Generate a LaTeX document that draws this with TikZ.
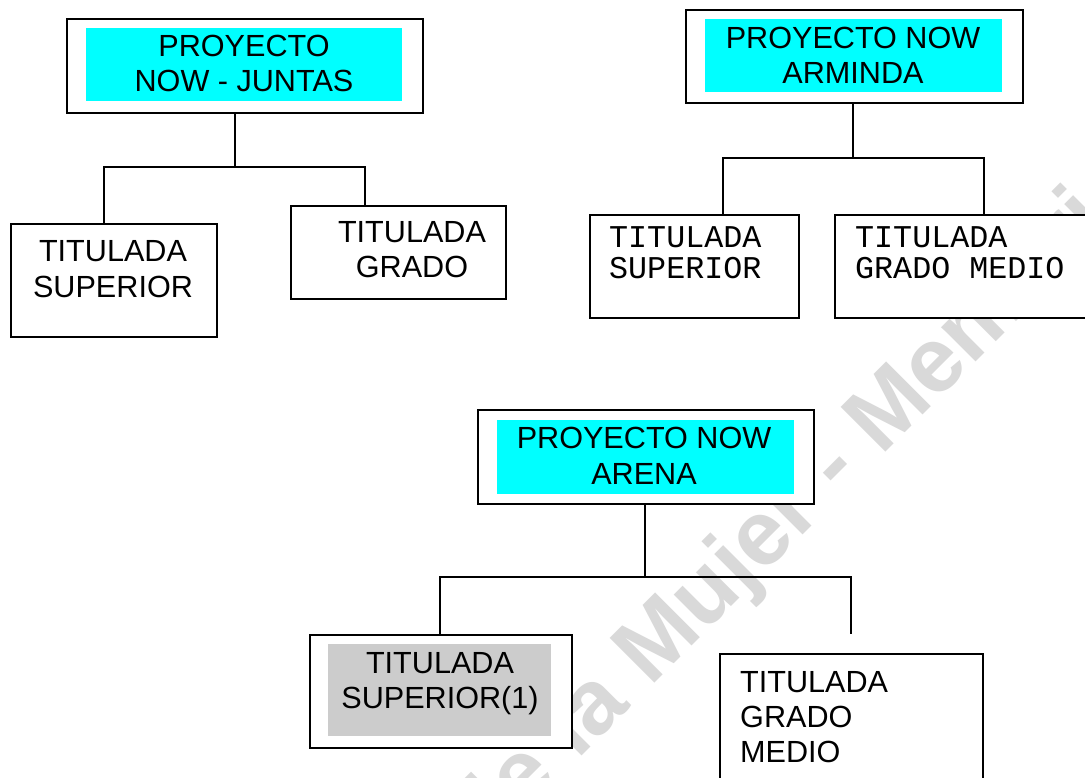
\documentclass[tikz,border=0pt]{standalone}
\usepackage{fontspec}
\setmainfont{Liberation Sans}
\newfontfamily\monofnt{Liberation Mono}
\definecolor{cyanfill}{RGB}{0,255,255}
\definecolor{greyfill}{RGB}{204,204,204}
\definecolor{wmgrey}{RGB}{217,217,217}
\tikzset{
  box/.style={draw=black, line width=1.8pt, fill=white, inner sep=0pt, anchor=north west},
  cyanbox/.style={fill=cyanfill, draw=none, inner sep=0pt, anchor=north west},
  greybox/.style={fill=greyfill, draw=none, inner sep=0pt, anchor=north west},
  link/.style={draw=black, line width=1.8pt},
  txt/.style={inner sep=0pt, anchor=base, font=\fontsize{30.6}{35}\selectfont},
  txtl/.style={inner sep=0pt, anchor=base west, font=\fontsize{30.6}{35}\selectfont},
  mono/.style={inner sep=0pt, anchor=base west, font=\monofnt\fontsize{31.7}{31}\selectfont},
  wm/.style={inner sep=0pt, rotate=45, text=wmgrey, font=\bfseries\fontsize{92}{100}\selectfont}
}
\begin{document}
\begin{tikzpicture}[x=1pt,y=-1pt]
\useasboundingbox (0,0) rectangle (1085,778);
\clip (0,0) rectangle (1085,778);
\fill[white] (0,0) rectangle (1085,778);

% watermark
\node[wm, anchor=base west] (wmb) at (650,688) {Mujer - Memoria};
\node[wm, anchor=base east] (wma) at (wmb.base west) {de la\kern0.278em};

% ---------- PROYECTO NOW - JUNTAS ----------
\coordinate (jbl) at (104,167);
\coordinate (jbr) at (365,167);
\coordinate (jbm) at (235,167);
\node[box, minimum width=356pt, minimum height=94pt] (jt) at (66,18) {};
\node[cyanbox, minimum width=316pt, minimum height=73pt] (jtc) at (86,28) {};
\node[txt] (jt1) at (244,57) {PROYECTO};
\node[txt] (jt2) at (244,92) {NOW - JUNTAS};
\node[box, minimum width=206pt, minimum height=113pt] (jl) at (10,223) {};
\node[txt] (jl1) at (113,261.7) {TITULADA};
\node[txt] (jl2) at (113,298) {SUPERIOR};
\node[box, minimum width=215pt, minimum height=93pt] (jr) at (290,205) {};
\node[txt] (jr1) at (412,243) {TITULADA};
\node[txt] (jr2) at (412,278) {GRADO};
\draw[link] (jbm |- jt.south) -- (jbm);
\draw[link] (jbl |- jl.north) -- (jbl) -- (jbr) -- (jbr |- jr.north);

% ---------- PROYECTO NOW ARMINDA ----------
\coordinate (mbl) at (723,158);
\coordinate (mbr) at (984,158);
\coordinate (mbm) at (853,158);
\node[box, minimum width=337pt, minimum height=93pt] (mt) at (685,9) {};
\node[cyanbox, minimum width=297pt, minimum height=73pt] (mtc) at (705,19) {};
\node[txt] (mt1) at (853,48.3) {PROYECTO NOW};
\node[txt] (mt2) at (853,83.3) {ARMINDA};
\node[box, minimum width=209pt, minimum height=103pt] (ml) at (589,214) {};
\node[mono] (ml1) at (609,248) {TITULADA};
\node[mono] (ml2) at (609,279) {SUPERIOR};
\node[box, minimum width=270pt, minimum height=103pt] (mr) at (834,214) {};
\node[mono] (mr1) at (855,248) {TITULADA};
\node[mono] (mr2) at (855,279) {GRADO MEDIO};
\draw[link] (mbm |- mt.south) -- (mbm);
\draw[link] (mbl |- ml.north) -- (mbl) -- (mbr) -- (mbr |- mr.north);

% ---------- PROYECTO NOW ARENA ----------
\coordinate (abl) at (440,577);
\coordinate (abr) at (851,577);
\coordinate (abm) at (645,577);
\coordinate (abre) at (851,634);
\node[box, minimum width=336pt, minimum height=94pt] (at) at (477,409) {};
\node[cyanbox, minimum width=297pt, minimum height=74pt] (atc) at (497,420) {};
\node[txt] (at1) at (644,448.3) {PROYECTO NOW};
\node[txt] (at2) at (644,484.5) {ARENA};
\node[box, minimum width=262pt, minimum height=113pt] (al) at (309,634) {};
\node[greybox, minimum width=223pt, minimum height=92pt] (alg) at (328,644) {};
\node[txt] (al1) at (440,673) {TITULADA};
\node[txt] (al2) at (440,708) {SUPERIOR(1)};
\node[box, minimum width=263pt, minimum height=140pt] (ar) at (719,653) {};
\node[txtl] (ar1) at (740,692) {TITULADA};
\node[txtl] (ar2) at (740,727) {GRADO};
\node[txtl] (ar3) at (740,762) {MEDIO};
\draw[link] (abm |- at.south) -- (abm);
\draw[link] (abl |- al.north) -- (abl) -- (abr) -- (abre);
\end{tikzpicture}
\end{document}
